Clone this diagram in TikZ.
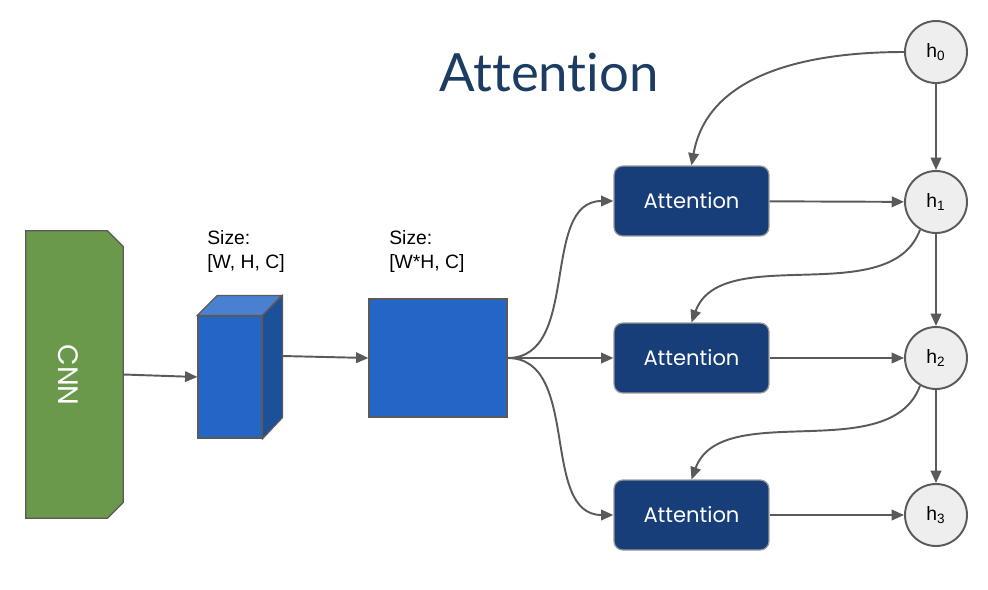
\documentclass[tikz,border=0pt]{standalone}
\usepackage{fontspec}
\setmainfont{Liberation Sans}
\newfontfamily\headfont[Ligatures=NoCommon]{Lato}
\newfontfamily\boxfont{Poppins}
\usetikzlibrary{arrows.meta, positioning, calc}
\definecolor{figgreen}{RGB}{106,153,75}
\definecolor{figblue}{RGB}{35,102,198}
\definecolor{figbluetop}{RGB}{74,128,208}
\definecolor{figblueside}{RGB}{28,80,152}
\definecolor{attblue}{RGB}{23,62,120}
\definecolor{titleblue}{RGB}{28,60,100}
\definecolor{edgegray}{RGB}{90,90,90}
\definecolor{hgray}{RGB}{238,238,238}
\tikzset{
  arr/.style={-{Triangle[length=7pt,width=6pt]}, draw=edgegray, line width=1.1pt},
  attn/.style={draw=gray!80, fill=attblue, rounded corners=5pt,
               minimum width=3.1cm, minimum height=1.4cm, text=white,
               font=\boxfont\fontsize{12}{14}\selectfont, line width=0.7pt},
  hnode/.style={circle, draw=edgegray, fill=hgray, minimum size=1.24cm,
                inner sep=0pt, line width=1.1pt, font=\fontsize{11}{13}\selectfont},
  sizelbl/.style={align=left, anchor=north west, inner sep=0pt,
                  font=\fontsize{11}{13.6}\selectfont},
  featbox/.style={draw=edgegray, line width=0.7pt, inner sep=0pt},
}

\begin{document}
\begin{tikzpicture}[x=0.02cm, y=-0.02cm, >=Triangle]
  \useasboundingbox (0,0) rectangle (988,589);

  % ─── Title ──────────────────────────────────────────────────────
  \node[font=\headfont\fontsize{30}{34}\selectfont, text=titleblue] (title) at (549,72) {Attention};

  % ─── CNN block ──────────────────────────────────────────────────
  \node[inner sep=0pt, minimum width=1.94cm, minimum height=5.74cm] (cnn) at (74.5,374.5) {};
  \draw[featbox, fill=figgreen] (cnn.north west) -- ($(cnn.north east)+(-16,0)$)
    -- ($(cnn.north east)+(0,16)$) -- ($(cnn.south east)+(0,-16)$)
    -- ($(cnn.south east)+(-16,0)$) -- (cnn.south west) -- cycle;
  \node[rotate=-90, text=white, font=\boxfont\fontsize{16}{18}\selectfont] (cnntxt) at (68,375) {CNN};

  % ─── Feature map cube [W, H, C] ─────────────────────────────────
  \node[featbox, fill=figblue, minimum width=1.28cm, minimum height=2.44cm] (cube) at (230,377) {};
  \draw[featbox, fill=figbluetop] (cube.north west) -- ++(20,-20) -- ++(64,0) -- (cube.north east) -- cycle;
  \draw[featbox, fill=figblueside] (cube.north east) -- ++(20,-20) -- ++(0,122) -- (cube.south east) -- cycle;
  \coordinate (cubeR) at (282,356);
  \node[sizelbl] (lblA) at (207,230) {Size:\\{}[W, H, C]};

  % ─── Flattened map [W*H, C] ─────────────────────────────────────
  \node[featbox, fill=figblue, minimum width=2.76cm, minimum height=2.36cm] (flat) at (438,358) {};
  \node[sizelbl] (lblB) at (389,230) {Size:\\{}[W*H, C]};

  % ─── Attention blocks and hidden states ─────────────────────────
  \node[attn] (att1) at (691.5,201) {Attention};
  \node[attn] (att2) at (691.5,358) {Attention};
  \node[attn] (att3) at (691.5,515) {Attention};

  \node[hnode] (h0) at (936,52)  {h\textsubscript{0}};
  \node[hnode] (h1) at (936,202) {h\textsubscript{1}};
  \node[hnode] (h2) at (936,358) {h\textsubscript{2}};
  \node[hnode] (h3) at (936,515) {h\textsubscript{3}};

  % ─── Connectors ─────────────────────────────────────────────────
  \draw[arr] (cnn.east) -- (cube.west);
  \draw[arr] (cubeR) -- (flat.west);

  \draw[arr] (flat.east) to[out=0, in=180] (att1.west);
  \draw[arr] (flat.east) -- (att2.west);
  \draw[arr] (flat.east) to[out=0, in=180] (att3.west);

  \draw[arr] (att1) -- (h1);
  \draw[arr] (att2) -- (h2);
  \draw[arr] (att3) -- (h3);

  \draw[arr] (h0) -- (h1);
  \draw[arr] (h1) -- (h2);
  \draw[arr] (h2) -- (h3);

  \draw[arr] (h0.west) to[out=180, in=80] (att1.north);
  \draw[arr] (h1.240) to[out=250, in=70, looseness=0.9] (att2.north);
  \draw[arr] (h2.240) to[out=250, in=70, looseness=0.9] (att3.north);

\end{tikzpicture}
\end{document}
